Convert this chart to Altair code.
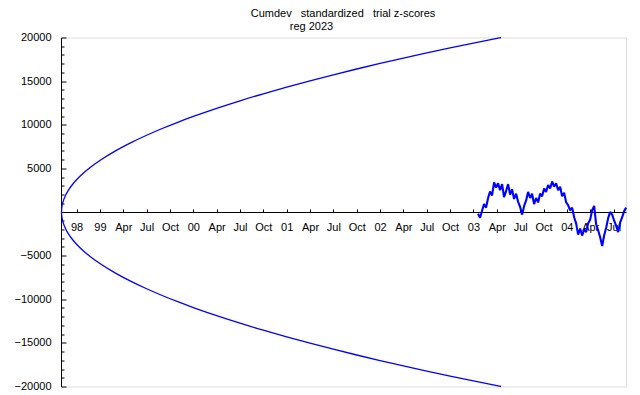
import altair as alt
import pandas as pd

# ---------------- data ----------------
title_line1 = "Cumdev\u00a0\u00a0\u00a0standardized\u00a0\u00a0\u00a0trial z-scores"
title_line2 = "reg\u00a02023"

# x axis: months counted from Jan 1998
tick_months = [9, 12, 15, 18, 21, 24, 27, 30, 33, 36, 39, 42, 45, 48, 51, 54, 57, 60, 63, 66, 69, 72, 75, 78]
tick_labels = ["98", "99", "Apr", "Jul", "Oct", "00", "Apr", "Jul", "Oct", "01", "Apr", "Jul", "Oct",
               "02", "Apr", "Jul", "Oct", "03", "Apr", "Jul", "Oct", "04", "Apr", "Jul"]

y_major = [-20000, -15000, -10000, -5000, 5000, 10000, 15000, 20000]
y_minor = [-19000, -18000, -17000, -16000, -14000, -13000, -12000, -11000, -9000, -8000, -7000, -6000,
           -4000, -3000, -2000, -1000, 1000, 2000, 3000, 4000, 6000, 7000, 8000, 9000,
           11000, 12000, 13000, 14000, 16000, 17000, 18000, 19000]

# envelope
env_month = [7.07, 7.09, 7.15, 7.3, 7.6, 8, 8.5, 9, 10, 11, 12, 14, 16, 18, 20, 22, 24, 27, 30,
             33, 36, 39, 42, 45, 48, 51, 54, 57, 60, 63.55]
env_upper = [0, 376, 753, 1276, 1937, 2566, 3183, 3697, 4555, 5276, 5909, 7006, 7953, 8798, 9570,
             10283, 10950, 11881, 12744, 13552, 14314, 15038, 15728, 16390, 17026, 17638, 18231,
             18804, 19361, 20000]
env_lower = [0, -376, -753, -1276, -1937, -2566, -3183, -3697, -4555, -5276, -5909, -7006, -7953, -8798,
             -9570, -10283, -10950, -11881, -12744, -13552, -14314, -15038, -15728, -16390, -17026,
             -17638, -18231, -18804, -19361, -20000]

# cumulative deviation
rw_month = [60.59, 60.85, 61.10, 61.36, 61.62, 61.88, 62.13, 62.39, 62.65, 62.91,
            63.16, 63.42, 63.68, 63.93, 64.19, 64.45, 64.71, 64.96, 65.22, 65.48,
            65.73, 65.99, 66.25, 66.51, 66.76, 67.02, 67.28, 67.53, 67.79, 68.05,
            68.31, 68.56, 68.82, 69.08, 69.33, 69.59, 69.85, 70.11, 70.36, 70.62,
            70.88, 71.14, 71.39, 71.65, 71.91, 72.16, 72.42, 72.68, 72.94, 73.19,
            73.45, 73.71, 73.96, 74.22, 74.48, 74.74, 74.99, 75.25, 75.51, 75.76,
            76.02, 76.28, 76.54, 76.79, 77.05, 77.31, 77.56, 77.82, 78.08, 78.34,
            78.59, 78.85, 79.11, 79.36, 79.62]
rw_value = [-200, -650, 150, 900, 500, 1600, 2350, 1900, 3400, 2800,
            3300, 2500, 3200, 1700, 2400, 3200, 2000, 2600, 1500, 2100,
            1200, 600, -300, 700, 1300, 2300, 1600, 2100, 900, 1600,
            1100, 2100, 1800, 2700, 2300, 3100, 2700, 3500, 2900, 3300,
            2500, 2900, 1800, 2200, 1100, 800, 200, 500, -600, -1300,
            -2600, -1900, -2700, -2000, -2300, -1300, -900, 200, 700, -1400,
            -2100, -2900, -3900, -2700, -1800, -700, 0, -300, -1000, -1600,
            -2300, -1200, -600, 100, 500]

# ---------------- chart ----------------
W, H = 565, 349
BLUE = "#0000ff"
FONT = "Liberation Sans"

env_df = pd.concat([
    pd.DataFrame({"month": env_month, "value": env_upper, "branch": "upper"}),
    pd.DataFrame({"month": env_month, "value": env_lower, "branch": "lower"}),
])
rw_df = pd.DataFrame({"month": rw_month, "value": rw_value})

x_scale = alt.Scale(domain=[7.0, 79.6], nice=False, zero=False)
y_scale = alt.Scale(domain=[-20000, 20000], nice=False)

js_vals = "[" + ",".join(str(v) for v in tick_months) + "]"
js_labs = "[" + ",".join("'" + s + "'" for s in tick_labels) + "]"
x_label_expr = f"{js_labs}[indexof({js_vals}, datum.value)]"
y_label_expr = "datum.value < 0 ? '\u2212' + format(-datum.value, 'd') : format(datum.value, 'd')"

x_axis = alt.Axis(
    orient="top", offset=-H / 2, values=tick_months, tickSize=3, tickColor="black",
    domainColor="black", domainWidth=1, tickWidth=1, grid=False, title=None,
    labelPadding=-12, labelBaseline="top", labelAlign="center", labelExpr=x_label_expr,
    labelFont=FONT, labelFontSize=11, labelColor="black", labelOverlap=False,
    labelFlush=False, labelBound=False,
)
y_axis = alt.Axis(
    orient="right", offset=-W, values=y_major, tickSize=5, tickColor="black",
    domainColor="black", domainWidth=1, tickWidth=1, grid=False, title=None,
    labelPadding=-15, labelAlign="right", labelBaseline="middle", labelExpr=y_label_expr,
    labelFont=FONT, labelFontSize=11, labelColor="black", labelOverlap=False,
    labelFlush=False, labelBound=False,
)
y_minor_axis = alt.Axis(
    orient="right", offset=-W, values=y_minor, tickSize=3, tickColor="black", tickWidth=1,
    domain=False, labels=False, grid=False, title=None,
)

envelope = alt.Chart(env_df).mark_line(color=BLUE, strokeWidth=1.3, interpolate="monotone").encode(
    x=alt.X("month:Q", scale=x_scale, axis=x_axis),
    y=alt.Y("value:Q", scale=y_scale, axis=y_axis),
    detail="branch:N",
)

walk = alt.Chart(rw_df).mark_line(color=BLUE, strokeWidth=2.1, strokeJoin="bevel").encode(
    x=alt.X("month:Q", scale=x_scale, axis=None),
    y=alt.Y("value:Q", scale=y_scale, axis=y_minor_axis),
)

t1 = alt.Chart(alt.Data(values=[{}])).mark_text(
    text=title_line1, font=FONT, fontSize=11, color="black", align="center", baseline="alphabetic"
).encode(x=alt.value(282), y=alt.value(-20.5))
t2 = alt.Chart(alt.Data(values=[{}])).mark_text(
    text=title_line2, font=FONT, fontSize=11, color="black", align="center", baseline="alphabetic"
).encode(x=alt.value(250.5), y=alt.value(-7.5))

chart = alt.layer(envelope, walk, t1, t2).resolve_axis(
    x="independent", y="independent"
).properties(
    width=W, height=H,
    padding={"left": 53, "top": 29.5, "right": 4, "bottom": 8},
    autosize=alt.AutoSizeParams(type="none"),
).configure_view(stroke=None).configure(background="white")

chart.save("out.html", embed_options={"renderer": "svg", "actions": False})
